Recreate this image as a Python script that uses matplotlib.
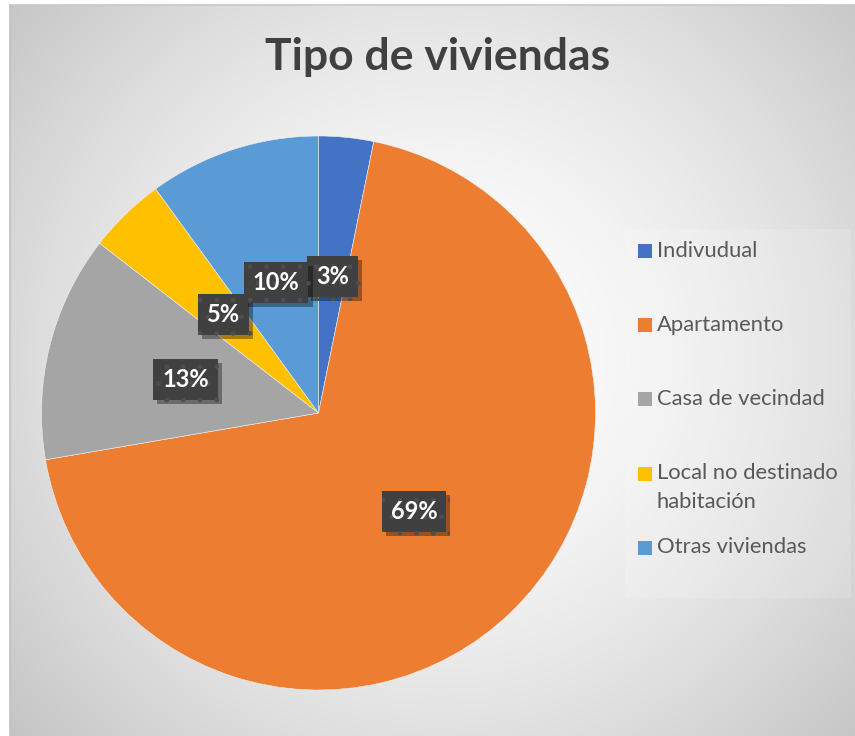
import numpy as np
import matplotlib
matplotlib.use("Agg")
import matplotlib.pyplot as plt
from matplotlib.patches import Rectangle
import matplotlib.patheffects as pe

# ---- data ----
categories = ["Indivudual", "Apartamento", "Casa de vecindad",
              "Local no destinado\nhabitación", "Otras viviendas"]
values = [3.2, 69.1, 13.2, 4.5, 10.0]
pct_labels = ["3%", "69%", "13%", "5%", "10%"]
colors = ["#4472C4", "#ED7D31", "#A5A5A5", "#FFC000", "#5B9BD5"]
title = "Tipo de viviendas"

W, H = 855, 736
DPI = 100
plt.rcParams['font.family'] = ['Lato', 'DejaVu Sans']
fig = plt.figure(figsize=(W / DPI, H / DPI), dpi=DPI)
fig.patch.set_facecolor("white")

def fx(px):
    return px / W

def fy(py):
    return 1 - py / H

# ---- background with radial gradient ----
L, R, T, B = 10, 855, 5, 736
bg = fig.add_axes([fx(L), fy(B), fx(R - L), (B - T) / H])
bg.set_axis_off()
xs = np.linspace(L, R, 400)
ys = np.linspace(T, B, 400)
X, Y = np.meshgrid(xs, ys)
cx, cy = 440, 360
d = np.sqrt((X - cx) ** 2 + (Y - cy) ** 2) / 570.0
d = np.clip(d, 0, 1)
val = 1.0 - (1.0 - 0.77) * d ** 1.6
img = np.dstack([val, val, val])
bg.imshow(img, extent=[0, 1, 0, 1], aspect="auto", origin="upper",
          interpolation="bilinear")
bg.set_xlim(0, 1)
bg.set_ylim(0, 1)
fig.add_artist(plt.Line2D([fx(L), fx(L)], [fy(T), 0], color="#c0c0c0",
                          lw=1.2, transform=fig.transFigure))
fig.add_artist(plt.Line2D([fx(L), 1], [fy(T), fy(T)], color="#c8c8c8",
                          lw=1.2, transform=fig.transFigure))

# ---- legend background ----
fig.add_artist(Rectangle((fx(625), fy(598)), fx(851 - 625), (598 - 229) / H,
                         transform=fig.transFigure, facecolor="white",
                         alpha=0.16, edgecolor="none", zorder=1))

# ---- pie ----
pcx, pcy, rad = 318.5, 413, 277
ax = fig.add_axes([fx(pcx - rad), fy(pcy + rad), 2 * rad / W, 2 * rad / H])
ax.set_facecolor("none")
ax.set_axis_off()
wedges, _ = ax.pie(values, colors=colors, startangle=90, counterclock=False,
                   radius=1.0, wedgeprops=dict(linewidth=0.4, edgecolor="#f0f0f0"))
ax.set_xlim(-1, 1)
ax.set_ylim(-1, 1)

# labels
for w, lab in zip(wedges, pct_labels):
    ang = np.deg2rad((w.theta1 + w.theta2) / 2)
    r = 0.495
    x, y = r * np.cos(ang), r * np.sin(ang)
    t = ax.text(x, y, lab, ha="center", va="center", fontsize=17,
                fontweight="bold", color="white",
                bbox=dict(boxstyle="square,pad=0.38", fc="#404040",
                          ec="#4e4e4e", lw=0, hatch="."))
    t.get_bbox_patch().set_path_effects(
        [pe.SimplePatchShadow(offset=(3, -3), shadow_rgbFace="black",
                              alpha=0.35), pe.Normal()])

# ---- title ----
fig.text(fx(438), fy(57), title, ha="center", va="center", fontsize=32,
         fontweight="bold", color="#404040")

# ---- legend (manual) ----
y0, step = 251, 74.2
for i, (lab, c) in enumerate(zip(categories, colors)):
    yc = y0 + i * step
    fig.add_artist(Rectangle((fx(638), fy(yc + 7)), fx(14), 14 / H,
                             transform=fig.transFigure, facecolor=c,
                             edgecolor="none", zorder=3))
    fig.text(fx(657), fy(yc - 10.5), lab, ha="left", va="top", fontsize=15.8,
             color="#595959", linespacing=1.55)

fig.savefig("out.png", dpi=DPI)
